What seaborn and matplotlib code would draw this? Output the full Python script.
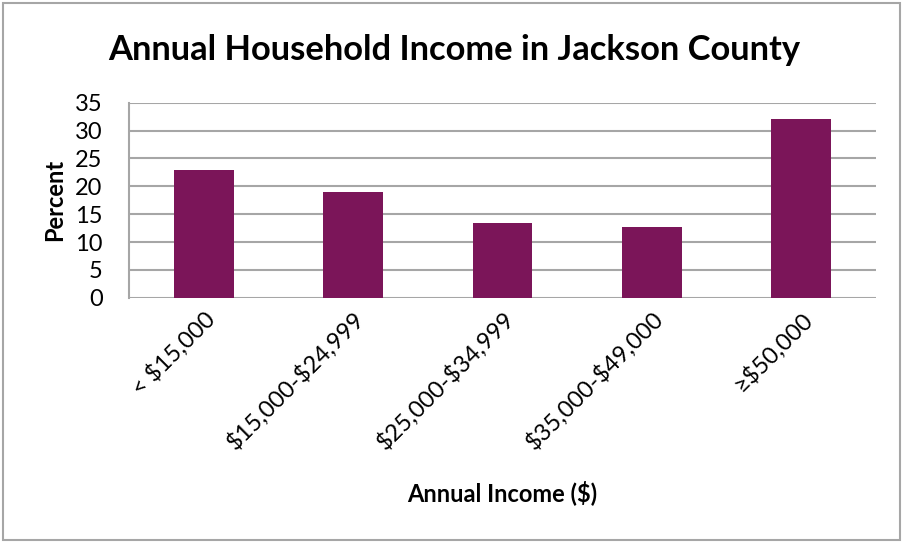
import matplotlib
matplotlib.use("Agg")
import matplotlib.pyplot as plt
import seaborn as sns
import pandas as pd
from matplotlib.patches import Rectangle

categories = ["< $15,000", "$15,000-$24,999", "$25,000-$34,999", "$35,000-$49,000", "\u2265$50,000"]
percent = [23, 19, 13.4, 12.7, 32]
y_ticks = [0, 5, 10, 15, 20, 25, 30, 35]

sns.set_theme(style="white")
plt.rcParams["font.family"] = ["Lato", "DejaVu Sans"]
plt.rcParams["text.parse_math"] = False
plt.rcParams["text.color"] = "black"
plt.rcParams["xtick.color"] = "black"
plt.rcParams["ytick.color"] = "black"
plt.rcParams["axes.labelcolor"] = "black"

df = pd.DataFrame({"Income": categories, "Percent": percent})

fig = plt.figure(figsize=(9.03, 5.42), dpi=100)
ax = fig.add_axes([0.1429, 0.4507, 0.8272, 0.3598])

sns.barplot(data=df, x="Income", y="Percent", color="#7B1559", saturation=1,
            width=0.40, ax=ax, zorder=3, edgecolor="none", linewidth=0)

ax.set_ylim(0, 35)
ax.set_yticks(y_ticks)
ax.set_xlim(-0.5, len(categories) - 0.5)
ax.yaxis.grid(True, color="#A6A6A6", linewidth=1.5, zorder=0)
ax.xaxis.grid(False)
for side in ["top", "right", "bottom"]:
    ax.spines[side].set_visible(False)
ax.spines["left"].set_color("#A6A6A6")
ax.spines["left"].set_linewidth(1.5)
ax.tick_params(axis="y", labelsize=17, pad=19, length=0)
ax.tick_params(axis="x", labelsize=17, length=0, pad=7)
plt.setp(ax.get_xticklabels(), rotation=45, ha="right", rotation_mode="anchor")
ax.set_yticklabels([str(v) for v in y_ticks])

ax.set_xlabel("Annual Income ($)", fontsize=17, fontweight="bold", va="center")
ax.xaxis.set_label_coords(0.5, (297.7 - 493) / 195)
ax.set_ylabel("Percent", fontsize=17, fontweight="bold", va="center")
ax.yaxis.set_label_coords((55 - 129) / 747, 0.5)
fig.text(0.503, 1 - 50 / 542, "Annual Household Income in Jackson County",
         ha="center", va="center", fontsize=24.8, fontweight="bold")

fig.patches.append(Rectangle((0.003, 0.004), 0.994, 0.99, transform=fig.transFigure,
                             fill=False, edgecolor="#A6A6A6", linewidth=1.5))

fig.savefig("out.png", dpi=100, facecolor="white")
